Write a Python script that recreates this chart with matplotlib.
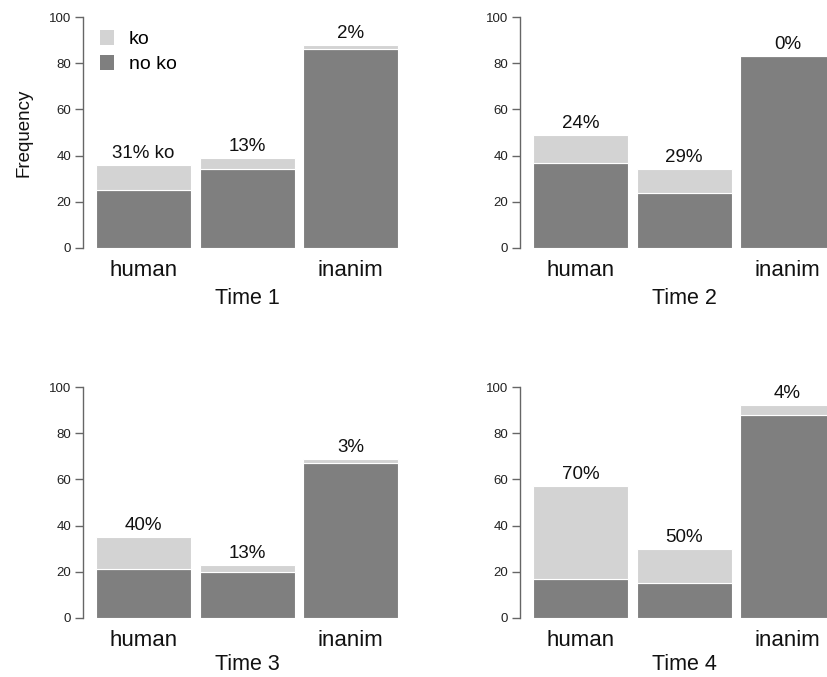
import matplotlib
matplotlib.use("Agg")
import matplotlib.pyplot as plt
from matplotlib.patches import Patch

plt.rcParams['font.family'] = ['Liberation Sans', 'DejaVu Sans']

categories = ["human", "animal", "inanim"]
category_labels = ["human", "", "inanim"]
panel_titles = ["Time 1", "Time 2", "Time 3", "Time 4"]

# counts per time point: (no ko, ko) for human / animal / inanim
no_ko_t1 = [25, 34, 86]
ko_t1 = [11, 5, 2]
no_ko_t2 = [37, 24, 83]
ko_t2 = [12, 10, 0]
no_ko_t3 = [21, 20, 67]
ko_t3 = [14, 3, 2]
no_ko_t4 = [17, 15, 88]
ko_t4 = [40, 15, 4]

pct_labels_t1 = ["31% ko", "13%", "2%"]
pct_labels_t2 = ["24%", "29%", "0%"]
pct_labels_t3 = ["40%", "13%", "3%"]
pct_labels_t4 = ["70%", "50%", "4%"]

no_ko_all = [no_ko_t1, no_ko_t2, no_ko_t3, no_ko_t4]
ko_all = [ko_t1, ko_t2, ko_t3, ko_t4]
pct_all = [pct_labels_t1, pct_labels_t2, pct_labels_t3, pct_labels_t4]

DARK = "#7f7f7f"
LIGHT = "#d3d3d3"
INK = "#111111"

W, H = 828, 677
fig = plt.figure(figsize=(W / 100, H / 100), dpi=100)

unit_px = 103.5          # pixels per bar step
x_left = -0.585
x_span_px = 345
# (spine x, pixel of value 0, pixel of value 100, title offset)
panel_px = [(83, 248, 17, -21.8), (520, 248, 17, -21.8),
            (83, 618, 387, -20.2), (520, 618, 387, -20.2)]

for i, (sx, y0, y100, title_y) in enumerate(panel_px):
    ax = fig.add_axes([sx / W, (H - y0) / H, x_span_px / W, (y0 - y100) / H])
    ax.set_xlim(x_left, x_left + x_span_px / unit_px)
    ax.set_ylim(0, 100)
    xs = range(len(categories))
    nk = no_ko_all[i]
    k = ko_all[i]
    ax.bar(xs, nk, width=0.918, color=DARK, edgecolor="white", linewidth=0.8)
    ax.bar(xs, k, width=0.918, bottom=nk, color=LIGHT, edgecolor="white", linewidth=0.8)
    for x, a, b, lab in zip(xs, nk, k, pct_all[i]):
        ax.text(x, a + b + 5.0, lab, ha="center", va="center", fontsize=13.5, color=INK)
    for x, lab in zip(xs, category_labels):
        ax.text(x, -9.6, lab, ha="center", va="center", fontsize=16, color=INK,
                clip_on=False)
    ax.text(1, title_y, panel_titles[i], ha="center", va="center", fontsize=15.5,
            color=INK, clip_on=False)

    for s in ["top", "right", "bottom"]:
        ax.spines[s].set_visible(False)
    ax.spines["left"].set_color("#666666")
    ax.spines["left"].set_linewidth(1.0)
    ax.set_xticks([])
    ax.set_yticks([0, 20, 40, 60, 80, 100])
    ax.tick_params(axis="y", length=6, width=1.0, color="#666666", pad=2.5,
                   labelsize=9.5, labelcolor="#222222")

    if i == 0:
        ax.set_ylabel("Frequency", fontsize=13.5, labelpad=12, color=INK)
        handles = [Patch(facecolor=LIGHT, edgecolor="none", label="ko"),
                   Patch(facecolor=DARK, edgecolor="none", label="no ko")]
        ax.legend(handles=handles, loc="upper left", bbox_to_anchor=(0.015, 0.995),
                  frameon=False, fontsize=14, handlelength=0.75, handleheight=0.8,
                  handletextpad=0.75, labelspacing=0.35, borderaxespad=0.2)

fig.savefig("out.png", dpi=100)
